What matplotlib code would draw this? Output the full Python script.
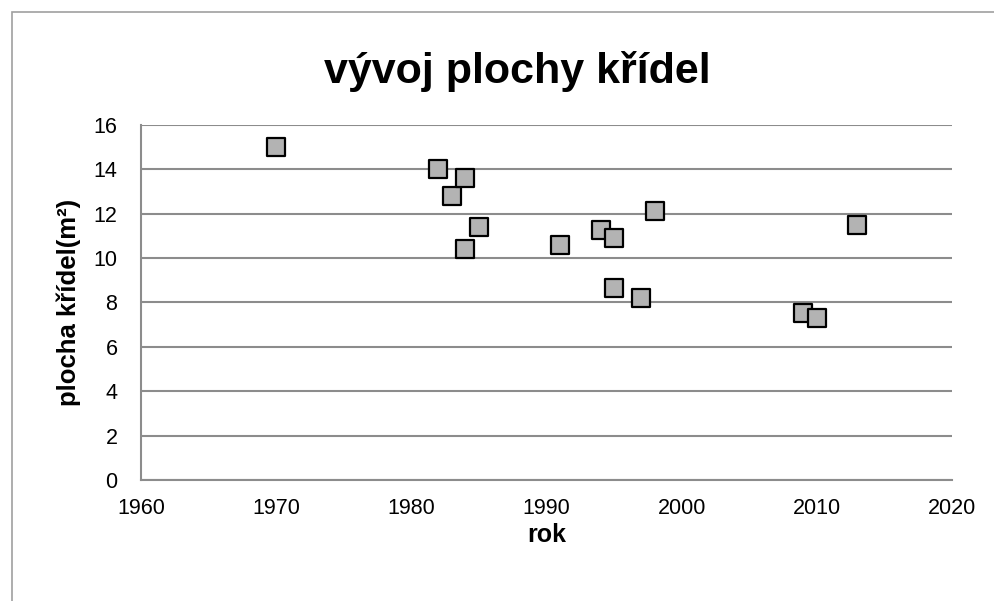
import matplotlib
matplotlib.use('Agg')
import matplotlib.pyplot as plt
from matplotlib.patches import Rectangle

# data
roky = [1970, 1982, 1983, 1984, 1984, 1985, 1991, 1994, 1995, 1995, 1997, 1998, 2009, 2010, 2013]
plocha = [15.0, 14.0, 12.8, 13.6, 10.4, 11.4, 10.6, 11.25, 10.9, 8.65, 8.2, 12.1, 7.5, 7.3, 11.5]
x_ticks = [1960, 1970, 1980, 1990, 2000, 2010, 2020]
y_ticks = [0, 2, 4, 6, 8, 10, 12, 14, 16]

plt.rcParams['font.family'] = ['Liberation Sans', 'DejaVu Sans']

fig = plt.figure(figsize=(9.94, 6.01), dpi=100)
# outer chart frame
fig.patches.append(Rectangle((12 / 994, -0.05), 1.0, 1 - 12 / 601 + 0.05,
                             transform=fig.transFigure, fill=False,
                             edgecolor='#a0a0a0', lw=1.2))

ax = fig.add_axes([141 / 994, 1 - 480 / 601, (952 - 141) / 994, (480 - 124.7) / 601])

ax.scatter(roky, plocha, marker='s', s=175, c='#b3b3b3', edgecolors='black',
           linewidths=1.6, zorder=3, clip_on=False)

ax.set_xlim(1960, 2020)
ax.set_ylim(0, 16)
ax.set_xticks(x_ticks)
ax.set_yticks(y_ticks)
ax.tick_params(length=0, labelsize=15.5)
ax.tick_params(axis='y', pad=17)
ax.tick_params(axis='x', pad=13)
ax.grid(axis='y', color='#8c8c8c', lw=1.5)
ax.set_axisbelow(True)
for s in ['top', 'right']:
    ax.spines[s].set_visible(False)
ax.spines['left'].set_color('#8c8c8c')
ax.spines['left'].set_linewidth(1.5)
ax.spines['bottom'].set_color('#8c8c8c')
ax.spines['bottom'].set_linewidth(1.5)

ax.set_xlabel('rok', fontsize=18, fontweight='bold', labelpad=3)
ax.set_ylabel('plocha křídel(m²)', fontsize=18.5, fontweight='bold', labelpad=9)
fig.text(517 / 994, 1 - 72 / 601, 'vývoj plochy křídel', fontsize=31,
         fontweight='bold', ha='center', va='center')

plt.savefig('out.png', dpi=100)
plt.close()
